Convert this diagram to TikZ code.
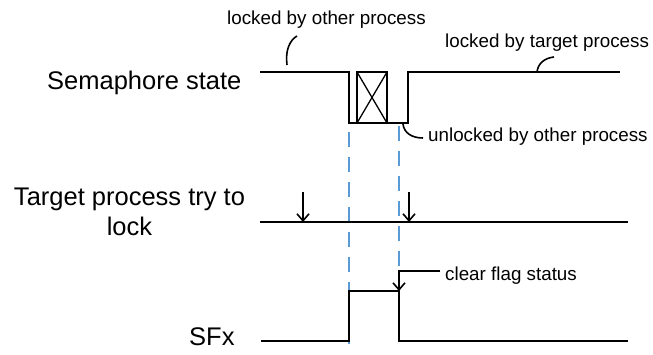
\documentclass[tikz,border=0pt]{standalone}
\usepackage{fontspec}
\setmainfont{Liberation Sans}
\usetikzlibrary{arrows.meta}
\definecolor{guideblue}{RGB}{91,155,213}

\tikzset{
  wave/.style={line width=1.9pt, line join=miter},
  guide/.style={line width=1.8pt, draw=guideblue, dash pattern=on 15pt off 10pt},
  note/.style={line width=1.6pt},
  tryarrow/.style={line width=1.6pt, -{Straight Barb[length=7pt,width=12pt,line width=1.6pt]}},
  biglabel/.style={inner sep=0pt, font=\fontsize{25.5}{30}\selectfont},
  smalllabel/.style={inner sep=0pt, font=\fontsize{18.8}{22}\selectfont}
}

\begin{document}
\begin{tikzpicture}[x=1pt, y=-1pt]
  \useasboundingbox (0,0) rectangle (653,354);
  % row labels
  \node[biglabel, anchor=base west] (semlabel) at (47,89) {Semaphore state};
  \node[biglabel, anchor=base] (trylabel) at (129.5,205) {Target process try to};
  \node[biglabel, anchor=base] (trylock) at (129.5,235) {lock};
  \node[biglabel, anchor=base west] (sflabel) at (189,345) {SFx};
  % guides
  \draw[guide] (349,132) -- (349,344);
  \draw[guide] (399,126) -- (399,344);
  % semaphore state
  \draw[wave] (260,72) -- (349,72) -- (349,123) -- (408,123) -- (408,72) -- (620,72);
  \draw[wave] (357,72) rectangle (387,123);
  \draw[line width=1.3pt] (357,72) -- (387,123) (387,72) -- (357,123);
  \node[smalllabel, anchor=base west] (otherlock) at (227,24) {locked by other process};
  \node[smalllabel, anchor=base west] (targetlock) at (445,47) {locked by target process};
  \node[smalllabel, anchor=base west] (otherunlock) at (428,141) {unlocked by other process};
  \draw[note] (287,65) .. controls (285,50) and (290,40) .. (297,36);
  \draw[note] (537,72) .. controls (538,63) and (545,58) .. (554,57);
  \draw[note] (403,124) .. controls (404,133) and (412,138) .. (423,138);
  % try to lock
  \draw[wave] (260,222) -- (628,222);
  \coordinate (tryA) at (303,192);
  \coordinate (tryAend) at (303,222);
  \coordinate (tryB) at (409,192);
  \coordinate (tryBend) at (409,222);
  \draw[tryarrow] (tryA) -- (tryAend);
  \draw[tryarrow] (tryB) -- (tryBend);
  % SFx
  \draw[wave] (261,341) -- (349,341) -- (349,291) -- (399,291) -- (399,341) -- (628,341);
  \node[smalllabel, anchor=base west] (clearflag) at (445,280) {clear flag status};
  \coordinate (clearbend) at (399,271);
  \coordinate (clearend) at (399,291);
  \draw[tryarrow] (clearflag.west |- clearbend) ++(-5,0) -- (clearbend) -- (clearend);
\end{tikzpicture}
\end{document}
